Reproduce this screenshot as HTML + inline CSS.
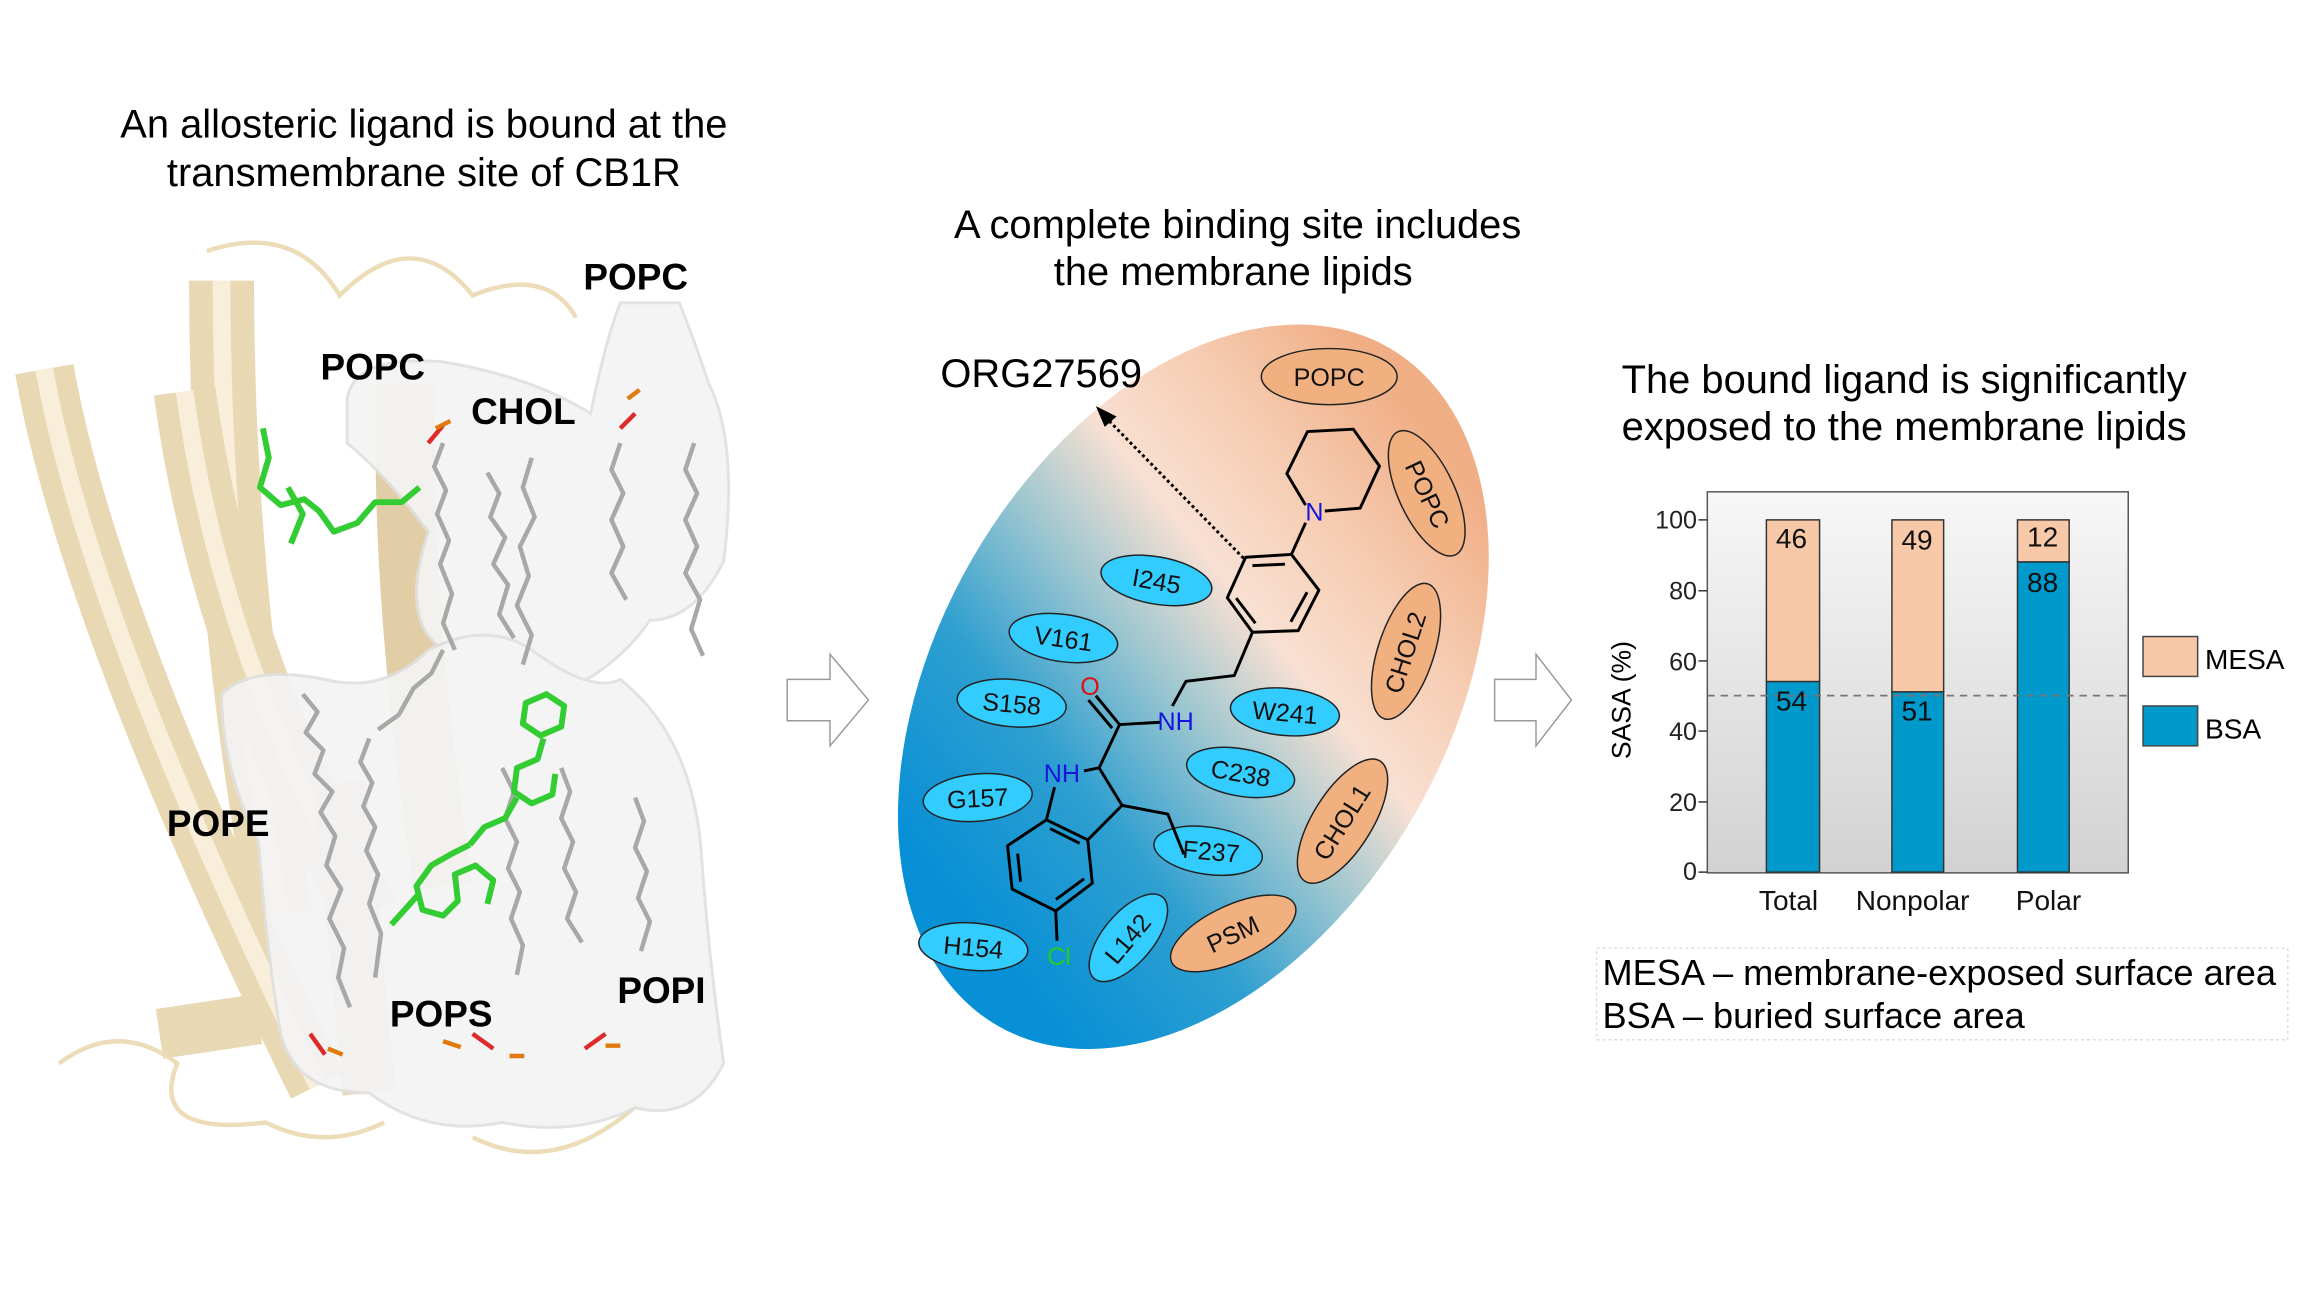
<!DOCTYPE html>
<html><head><meta charset="utf-8"><style>
html,body{margin:0;padding:0;background:#fff;}
svg{display:block;}
text{font-family:"Liberation Sans",Arial,sans-serif;}
</style></head><body>
<svg width="2304" height="1296" viewBox="0 0 1560 877.5" xmlns="http://www.w3.org/2000/svg">
<defs>
<linearGradient id="eg" x1="607" y1="387" x2="1025" y2="550" gradientUnits="userSpaceOnUse">
<stop offset="0" stop-color="#0890d6"/><stop offset="0.25" stop-color="#2e9fd0"/><stop offset="0.45" stop-color="#9cc6d0"/>
<stop offset="0.62" stop-color="#f8e0d2"/><stop offset="0.8" stop-color="#f6ccb2"/><stop offset="1" stop-color="#f0ae85"/>
</linearGradient>
<linearGradient id="cg" x1="0" y1="0" x2="0" y2="1">
<stop offset="0" stop-color="#f7f7f7"/><stop offset="1" stop-color="#d2d2d2"/>
</linearGradient>
</defs>

<!-- Left panel -->
<text x="287" y="93" font-size="27" text-anchor="middle">An allosteric ligand is bound at the</text>
<text x="287" y="126" font-size="27" text-anchor="middle">transmembrane site of CB1R</text>

<g stroke-linecap="butt" opacity="0.95" fill="none">
<path d="M30 250 Q60 420 215 735" stroke="#e8d6b0" stroke-width="40"/>
<path d="M30 250 Q60 420 215 735" stroke="#f8eed8" stroke-width="12"/>
<path d="M150 190 Q150 400 190 620" stroke="#e8d6b0" stroke-width="44"/>
<path d="M150 190 Q150 400 190 620" stroke="#f8eed8" stroke-width="12"/>
<path d="M125 265 Q150 450 250 620" stroke="#e8d6b0" stroke-width="42"/>
<path d="M125 265 Q150 450 250 620" stroke="#f8eed8" stroke-width="12"/>
<path d="M275 260 Q270 400 300 600" stroke="#e0cca2" stroke-width="40"/>
<path d="M230 530 L250 740" stroke="#e8d6b0" stroke-width="36"/>
<path d="M108 700 L175 690" stroke="#e8d6b0" stroke-width="34"/>
</g>
<g fill="none" stroke="#ecdcb8" stroke-width="3">
<path d="M140 170 Q200 150 230 200 Q280 150 320 200 Q370 180 390 215"/>
<path d="M40 720 Q80 690 120 720 Q100 770 180 760 Q220 780 260 760"/>
<path d="M320 770 Q380 800 440 740"/>
</g>
<!-- lipid surfaces -->
<g fill="#f4f4f4" opacity="0.92" stroke="#e0e0e0" stroke-width="2">
<path d="M235 270 Q240 240 300 245 Q360 255 400 280 Q410 230 420 205 L460 205 Q470 230 480 260 Q500 300 490 380 Q470 420 440 420 Q420 450 380 470 L360 450 Q330 460 300 440 Q270 420 290 360 Q260 320 235 300 Z"/>
<path d="M150 470 Q170 450 220 460 Q260 470 290 440 Q330 420 360 440 Q400 470 420 460 Q470 500 475 580 Q480 650 490 720 Q470 760 430 750 Q390 770 340 760 Q290 770 250 740 Q200 740 190 700 Q180 640 175 570 Q150 520 150 470 Z"/>
</g>
<g fill="none" stroke="#a8a8a8" stroke-width="3" stroke-linejoin="round">
<path d="M205 470 l10 12 -8 14 12 12 -6 16 12 12 -8 14 10 16 -6 20 10 16 -8 20 10 20 -4 20 8 20"/>
<path d="M250 500 l-6 16 8 14 -6 16 8 14 -6 16 8 16 -6 20 8 20 -4 30"/>
<path d="M300 300 l-6 16 8 16 -6 16 8 18 -6 16 8 20 -6 20 8 18"/>
<path d="M330 320 l8 14 -6 16 10 14 -8 18 10 14 -6 20 10 16"/>
<path d="M360 310 l-6 20 8 20 -10 20 6 20 -8 20 10 20 -6 20"/>
<path d="M420 300 l-6 18 8 16 -8 18 8 18 -8 18 10 18"/>
<path d="M470 300 l-6 18 8 16 -8 18 8 18 -8 18 10 18 -6 20 8 18"/>
<path d="M340 520 l8 16 -6 18 8 16 -6 18 8 16 -6 18 8 18 -4 20"/>
<path d="M380 520 l6 16 -6 18 8 16 -6 18 8 16 -6 18 10 16"/>
<path d="M430 540 l6 16 -6 18 8 16 -6 18 8 16 -6 20"/>
<path d="M300 440 l-8 16 -12 10 -10 18 -14 10"/>
</g>
<g fill="none" stroke="#dd2a2a" stroke-width="3">
<path d="M290 300 l10 -12"/><path d="M420 290 l10 -10"/><path d="M210 700 l10 14"/><path d="M410 700 l-14 10"/><path d="M320 700 l14 10"/>
</g>
<g fill="none" stroke="#e07a10" stroke-width="3">
<path d="M295 290 l10 -5 M425 270 l8 -6 M222 710 l10 4 M300 705 l12 4 M345 715 l10 0 M410 708 l10 0"/>
</g>
<g fill="none" stroke="#33cc33" stroke-width="4" stroke-linejoin="round">
<path d="M178 290 l4 20 -6 20 14 12 16 -4 10 8 10 14 16 -6 12 -14 18 0 12 -10"/>
<path d="M195 330 l10 18 -8 20"/>
<path d="M370 470 l12 8 -2 14 -14 6 -12 -8 2 -14 Z"/>
<path d="M368 500 l-4 14 -14 6 -2 16 12 8 14 -6 2 -14"/>
<path d="M350 540 l-8 14 -14 6 -10 12"/>
<path d="M318 572 l-12 6 -14 8 -10 14 4 16 14 4 10 -10 -2 -18 14 -6 12 10 -4 16"/>
<path d="M283 606 l-18 20"/>
</g>
<g font-size="25" font-weight="bold" fill="#000">
<text x="395" y="196">POPC</text>
<text x="217" y="257">POPC</text>
<text x="319" y="287">CHOL</text>
<text x="113" y="566">POPE</text>
<text x="264" y="695">POPS</text>
<text x="418" y="679">POPI</text>
</g>

<!-- Arrows -->
<path d="M533 460 L562 460 L562 443 L588 474 L562 505 L562 488 L533 488 Z" fill="#fff" stroke="#999" stroke-width="1"/>
<path d="M1012 460 L1040 460 L1040 443 L1064 474 L1040 505 L1040 488 L1012 488 Z" fill="#fff" stroke="#999" stroke-width="1"/>

<!-- Middle panel -->
<text x="838" y="161" font-size="27" text-anchor="middle">A complete binding site includes</text>
<text x="835" y="193" font-size="27" text-anchor="middle">the membrane lipids</text>
<ellipse cx="808" cy="465" rx="265" ry="173" transform="rotate(-60 808 465)" fill="url(#eg)"/>
<text x="705" y="262" font-size="27" text-anchor="middle">ORG27569</text>
<line x1="842" y1="378" x2="750" y2="284" stroke="#000" stroke-width="2" stroke-dasharray="2,2"/>
<path d="M742 275 L756 282 L748 289 Z" fill="#000"/>

<g stroke="#222" stroke-width="1">
<g fill="#33ccff">
<ellipse cx="783" cy="393" rx="38" ry="16" transform="rotate(10 783 393)"/>
<ellipse cx="720" cy="432" rx="37" ry="16" transform="rotate(8 720 432)"/>
<ellipse cx="685" cy="476" rx="37" ry="16" transform="rotate(5 685 476)"/>
<ellipse cx="662" cy="540" rx="37" ry="16" transform="rotate(-5 662 540)"/>
<ellipse cx="659" cy="641" rx="37" ry="16" transform="rotate(5 659 641)"/>
<ellipse cx="764" cy="635" rx="36" ry="17" transform="rotate(-50 764 635)"/>
<ellipse cx="840" cy="523" rx="37" ry="16" transform="rotate(10 840 523)"/>
<ellipse cx="870" cy="482" rx="37" ry="16" transform="rotate(5 870 482)"/>
<ellipse cx="818" cy="576" rx="37" ry="16" transform="rotate(8 818 576)"/>
</g>
<g fill="#f0b080">
<ellipse cx="900" cy="255" rx="46" ry="19"/>
<ellipse cx="966" cy="334" rx="46" ry="19" transform="rotate(65 966 334)"/>
<ellipse cx="952" cy="441" rx="48" ry="19" transform="rotate(-72 952 441)"/>
<ellipse cx="909" cy="556" rx="48" ry="20" transform="rotate(-58 909 556)"/>
<ellipse cx="835" cy="632" rx="46" ry="19" transform="rotate(-25 835 632)"/>
</g>
</g>
<g font-size="17" fill="#111" text-anchor="middle" dominant-baseline="central">
<text x="783" y="394" transform="rotate(10 783 394)">I245</text>
<text x="720" y="433" transform="rotate(8 720 433)">V161</text>
<text x="685" y="477" transform="rotate(5 685 477)">S158</text>
<text x="662" y="541" transform="rotate(-3 662 541)">G157</text>
<text x="659" y="642" transform="rotate(5 659 642)">H154</text>
<text x="764" y="636" transform="rotate(-50 764 636)">L142</text>
<text x="840" y="524" transform="rotate(10 840 524)">C238</text>
<text x="870" y="483" transform="rotate(5 870 483)">W241</text>
<text x="820" y="577" transform="rotate(5 820 577)">F237</text>
<text x="900" y="256">POPC</text>
<text x="966" y="335" transform="rotate(65 966 335)">POPC</text>
<text x="952" y="442" transform="rotate(-72 952 442)">CHOL2</text>
<text x="909" y="557" transform="rotate(-58 909 557)">CHOL1</text>
<text x="835" y="633" transform="rotate(-25 835 633)">PSM</text>
</g>
<!-- molecule -->
<g fill="none" stroke="#000" stroke-width="2" stroke-linejoin="round">
<path d="M884 342 L871.3 320.7 L885.3 292.2 L916.3 290.6 L934 315.6 L920.9 344.1 L897 346"/>
<path d="M884 354 L874.4 375.4"/>
<path d="M874.4 375.4 L893 399.6 L879 427 L848 428.1 L831 404.7 L843.4 377.3 Z"/>
<path d="M848 383 L870 382 M885 401 L874 421 M837 405 L850 422"/>
<path d="M848 428.1 L835.7 457.4 L803 461.3 L793.8 478"/>
<path d="M786 489 L758 490.6 L744.2 519.9"/>
<path d="M758 490.6 L742 471 M753 493 L737 474"/>
<path d="M744.2 519.9 L759.7 545.3 L790.7 551.2 L801.6 578.5"/>
<path d="M744.2 519.9 L734 522"/>
<path d="M759.7 545.3 L736.5 568.7"/>
<path d="M714 533 L708.5 555.1"/>
<path d="M708.5 555.1 L736.5 568.7 L739.6 598 L714.8 616.8 L685.3 602 L682.2 572.6 Z"/>
<path d="M711 561 L731 571 M734 595 L715 609 M689 578 L691 597"/>
<path d="M714.8 616.8 L715.7 637"/>
</g>
<g font-size="17" text-anchor="middle" dominant-baseline="central">
<text x="890" y="347" fill="#1515dd">N</text>
<text x="796" y="489" fill="#1515dd">NH</text>
<text x="719" y="524" fill="#1515dd">NH</text>
<text x="738" y="465" fill="#dd1111">O</text>
<text x="717" y="648" fill="#22cc22">Cl</text>
</g>

<!-- Right panel -->
<text x="1098" y="266" font-size="27">The bound ligand is significantly</text>
<text x="1098" y="298" font-size="27">exposed to the membrane lipids</text>
<rect x="1156" y="333" width="285" height="258" fill="url(#cg)" stroke="#555" stroke-width="1"/>
<g stroke="#333" stroke-width="1">
<rect x="1196" y="352" width="36" height="109.5" fill="#f7c9a8"/>
<rect x="1196" y="461.5" width="36" height="129" fill="#0099cc"/>
<rect x="1281" y="352" width="35" height="116.5" fill="#f7c9a8"/>
<rect x="1281" y="468.5" width="35" height="122" fill="#0099cc"/>
<rect x="1366" y="352" width="35" height="28.5" fill="#f7c9a8"/>
<rect x="1366" y="380.5" width="35" height="210" fill="#0099cc"/>
</g>
<line x1="1156" y1="471" x2="1441" y2="471" stroke="#777" stroke-width="1.2" stroke-dasharray="5,4"/>
<g stroke="#333" stroke-width="1">
<line x1="1150" y1="590.5" x2="1156" y2="590.5"/><line x1="1150" y1="543" x2="1156" y2="543"/>
<line x1="1150" y1="495" x2="1156" y2="495"/><line x1="1150" y1="447.5" x2="1156" y2="447.5"/>
<line x1="1150" y1="400" x2="1156" y2="400"/><line x1="1150" y1="352" x2="1156" y2="352"/>
</g>
<g font-size="17" text-anchor="end" fill="#222">
<text x="1149" y="596">0</text><text x="1149" y="549">20</text><text x="1149" y="501">40</text>
<text x="1149" y="454">60</text><text x="1149" y="406">80</text><text x="1149" y="358">100</text>
</g>
<text x="1104" y="474" font-size="18" text-anchor="middle" transform="rotate(-90 1104 474)">SASA (%)</text>
<g font-size="19" text-anchor="middle" fill="#111">
<text x="1211" y="616">Total</text><text x="1295" y="616">Nonpolar</text><text x="1387" y="616">Polar</text>
<text x="1213" y="371">46</text><text x="1213" y="481">54</text>
<text x="1298" y="372">49</text><text x="1298" y="488">51</text>
<text x="1383" y="370">12</text><text x="1383" y="401">88</text>
</g>
<rect x="1451" y="431" width="37" height="27" fill="#f7c9a8" stroke="#444" stroke-width="1"/>
<rect x="1451" y="478" width="37" height="27" fill="#0099cc" stroke="#444" stroke-width="1"/>
<text x="1493" y="453" font-size="19">MESA</text>
<text x="1493" y="500" font-size="19">BSA</text>
<rect x="1081" y="642" width="468" height="62" fill="none" stroke="#ddd" stroke-width="1" stroke-dasharray="2,2"/>
<text x="1085" y="667" font-size="24.5">MESA – membrane-exposed surface area</text>
<text x="1085" y="696" font-size="24.5">BSA – buried surface area</text>
</svg>
</body></html>
